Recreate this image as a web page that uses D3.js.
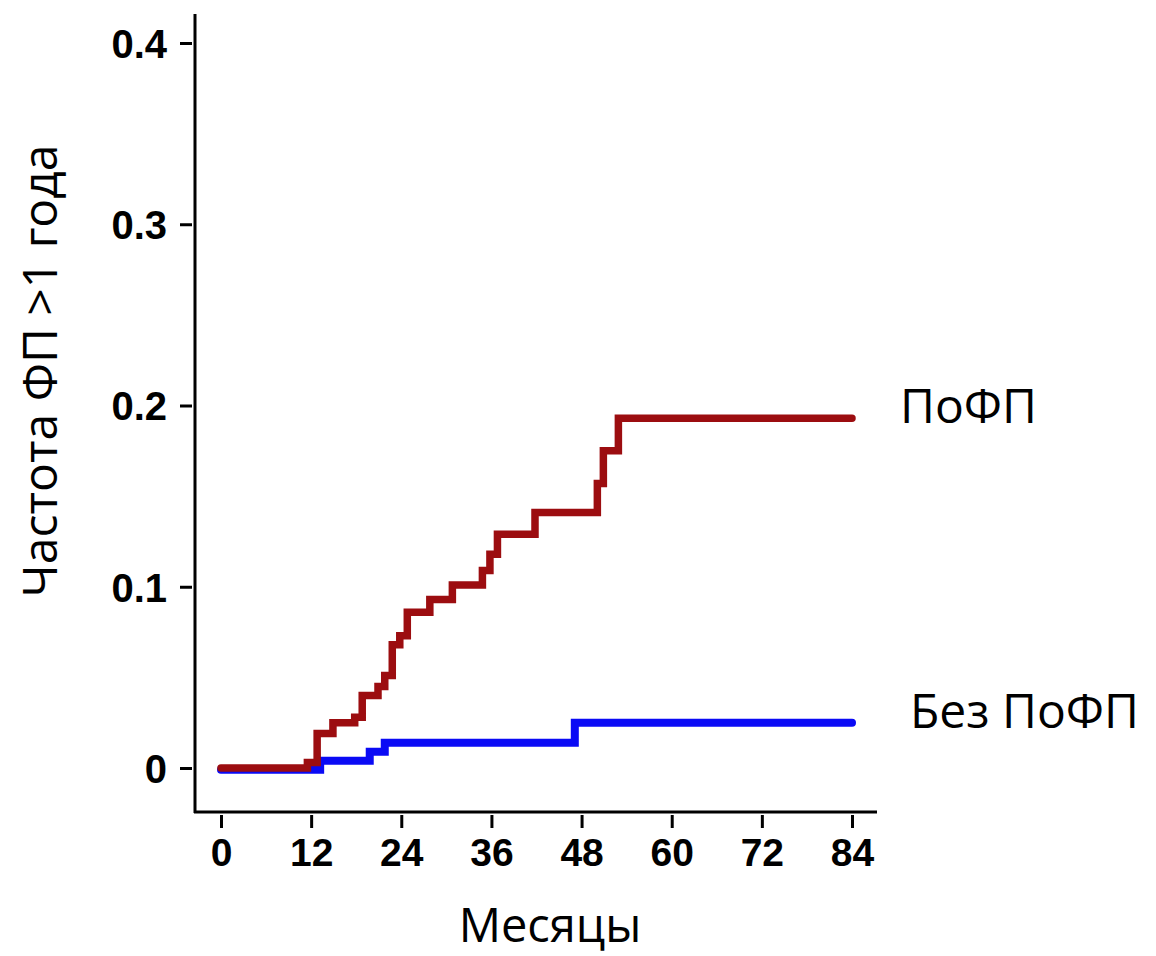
<!DOCTYPE html>
<meta charset="utf-8">
<script src="https://d3js.org/d3.v7.min.js"></script>
<style>
  body { margin: 0; background: #fff; }
  .tick text { font-family: "Liberation Sans", Arial, sans-serif; font-weight: bold; fill: #000; }
  .lbl { font-family: "Open Sans", sans-serif; fill: #000; }
</style>
<div id="chart"></div>
<script>

// step data (months, cumulative rate)
var redMonths  = [0, 11.5, 12.8, 14.9, 17.8, 18.8, 20.9, 21.8, 22.8, 23.8, 24.8, 27.8, 30.8, 34.8, 35.8, 36.8, 41.8, 50.1, 50.9, 52.9, 84];
var redValues  = [0, 0.003, 0.019, 0.025, 0.028, 0.040, 0.045, 0.051, 0.068, 0.073, 0.086, 0.093, 0.101, 0.109, 0.118, 0.129, 0.141, 0.157, 0.175, 0.193, 0.193];
var blueMonths = [0, 13.2, 19.8, 21.8, 47.1, 84];
var blueValues = [-0.001, 0.004, 0.009, 0.014, 0.025, 0.025];

var xTicks = [0, 12, 24, 36, 48, 60, 72, 84];
var yTicks = [0, 0.1, 0.2, 0.3, 0.4];
var yTickLabels = ["0", "0.1", "0.2", "0.3", "0.4"];

var seriesNames = ["ПоФП", "Без ПоФП"];
var xTitle = "Месяцы";
var yTitle = "Частота ФП >1 года";

var width = 1156, height = 956;

var svg = d3.select("#chart")
  .append("svg")
    .attr("width", width)
    .attr("height", height);

var x = d3.scaleLinear().domain([0, 84]).range([221, 852]);
var y = d3.scaleLinear().domain([0, 0.4]).range([768, 43]);

// axis lines
svg.append("line")
  .attr("x1", 195).attr("x2", 195)
  .attr("y1", 14).attr("y2", 813)
  .attr("stroke", "#000").attr("stroke-width", 3);
svg.append("line")
  .attr("x1", 194).attr("x2", 877)
  .attr("y1", 812).attr("y2", 812)
  .attr("stroke", "#000").attr("stroke-width", 3);

// Y axis ticks
var gy = svg.append("g")
  .attr("transform", "translate(192,0)")
  .call(d3.axisLeft(y).tickValues(yTicks).tickSize(12).tickPadding(13)
        .tickFormat(function(d, i) { return yTickLabels[i]; }));
gy.select(".domain").remove();
gy.selectAll(".tick line").attr("stroke-width", 3);
gy.selectAll(".tick text").style("font-size", "40px").attr("dy", "0.36em");

// X axis ticks
var gx = svg.append("g")
  .attr("transform", "translate(0,815)")
  .call(d3.axisBottom(x).tickValues(xTicks).tickSize(13).tickPadding(10));
gx.select(".domain").remove();
gx.selectAll(".tick line").attr("stroke-width", 3);
gx.selectAll(".tick text").style("font-size", "39px");

// curves
var line = d3.line()
  .x(function(d) { return x(d[0]); })
  .y(function(d) { return y(d[1]); })
  .curve(d3.curveStepAfter);

svg.append("path")
  .datum(d3.zip(blueMonths, blueValues))
  .attr("d", line)
  .attr("fill", "none")
  .attr("stroke", "#0a0af5")
  .attr("stroke-width", 8)
  .attr("stroke-linecap", "round");

svg.append("path")
  .datum(d3.zip(redMonths, redValues))
  .attr("d", line)
  .attr("fill", "none")
  .attr("stroke", "#9c0d10")
  .attr("stroke-width", 7.5)
  .attr("stroke-linecap", "round");

// labels
svg.append("text").attr("class", "lbl")
  .attr("x", 900).attr("y", 423)
  .style("font-size", "48px")
  .text(seriesNames[0]);
svg.append("text").attr("class", "lbl")
  .attr("x", 910).attr("y", 728)
  .style("font-size", "48px")
  .text(seriesNames[1]);

svg.append("text").attr("class", "lbl")
  .attr("x", 550).attr("y", 942)
  .attr("text-anchor", "middle")
  .style("font-size", "47px")
  .text(xTitle);

svg.append("text").attr("class", "lbl")
  .attr("transform", "translate(57,371) rotate(-90)")
  .attr("text-anchor", "middle")
  .style("font-size", "48px")
  .text(yTitle);

</script>
